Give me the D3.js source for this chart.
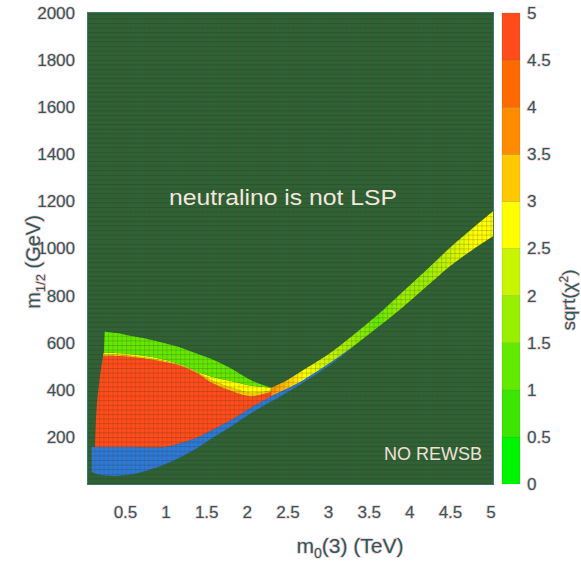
<!DOCTYPE html>
<html>
<head>
<meta charset="utf-8">
<script src="https://cdn.jsdelivr.net/npm/d3@7"></script>
<style>
  html, body { margin: 0; padding: 0; background: #ffffff; }
  text { font-family: "Liberation Sans", Arial, Helvetica, sans-serif; }
</style>
</head>
<body>
<svg id="chart" width="581" height="565"></svg>
<script>
// ---- axis ticks -------------------------------------------------------
const m0Ticks  = [0.5, 1, 1.5, 2, 2.5, 3, 3.5, 4, 4.5, 5];
const m12Ticks = [200, 400, 600, 800, 1000, 1200, 1400, 1600, 1800, 2000];
const chiTicks = [0, 0.5, 1, 1.5, 2, 2.5, 3, 3.5, 4, 4.5, 5];
const chiColors = ["#00f500", "#3ce600", "#62ea00", "#98f000", "#c8f500",
                   "#ffff00", "#ffc800", "#ff8c00", "#ff6a00", "#ff4c1a"];

// ---- region boundaries: [m0 (TeV), m1/2 (GeV)] ------------------------
const greenTop    = [[0.25,647],[0.40,641],[0.56,629],[0.80,614],[0.97,600],[1.20,578],
                     [1.39,553],[1.55,533],[1.79,494],[2.04,443],[2.20,420],[2.30,409]];
const yellowTop   = [[0.24,557],[0.56,552],[0.97,530],[1.20,506],[1.39,478],[1.55,458],
                     [1.79,438],[2.04,418],[2.20,412],[2.30,409]];
const orangeTop   = [[0.23,549],[0.56,545],[0.97,524],[1.20,503],[1.39,474],[1.55,443],
                     [1.79,412],[2.04,388],[2.20,391],[2.30,398]];
const redTop      = [[0.23,545],[0.56,540],[0.97,519],[1.20,500],[1.39,470],[1.55,433],
                     [1.79,398],[2.04,372],[2.20,382],[2.30,392]];
const redLeft     = [[0.23,545],[0.19,450],[0.156,345],[0.14,250],[0.131,157]];
const blueTop     = [[0.09,157],[0.50,157],[0.99,157],[1.20,175],[1.40,198],[1.55,225],
                     [1.80,270],[2.04,322],[2.30,372],[2.50,405],[2.70,442],[3.00,508],[3.30,582]];
const rewsbEdge   = [[0.09,52],[0.15,42],[0.35,34],[0.60,42],[0.80,60],[1.00,85],[1.20,117],
                     [1.40,155],[1.55,190],[1.80,243],[2.04,298],[2.30,350],[2.50,390],
                     [2.70,432],[3.00,500],[3.30,580]];

// narrow allowed strip running up along the REWSB edge
const stripM0    = [2.30, 2.50, 2.70, 3.00, 3.30, 3.60, 3.90, 4.20, 4.50, 4.80, 5.03];
const stripUpper = [409, 442, 485, 550, 630, 715, 810, 905, 1003, 1092, 1158];
const stripLower = [372, 405, 442, 508, 582, 662, 745, 835, 925, 1000, 1052];
const stripChi   = [3.8, 3.3, 2.8, 2.3, 1.8, 1.4, 1.7, 1.9, 2.2, 2.5, 2.8];

// chi values of the filled regions
const regionChi = { green: 1.3, yellow: 2.8, orange: 3.3, red: 4.8 };

// ---- layout -----------------------------------------------------------
const plot = { left: 88, right: 493, top: 13, bottom: 484 };
const bar  = { left: 502, right: 520 };
const textColor = "#1d5e63";
const fringe = "rgba(255,140,140,0.45)";

const svg = d3.select("#chart");
const x = d3.scaleLinear().domain([0.045, 5.03]).range([plot.left, plot.right]);
const y = d3.scaleLinear().domain([0, 2000]).range([plot.bottom, plot.top]);
const yc = d3.scaleLinear().domain([0, 5]).range([plot.bottom, plot.top]);
const color = d3.scaleThreshold().domain(chiTicks.slice(1, -1)).range(chiColors);

const defs = svg.append("defs");
defs.append("clipPath").attr("id", "plotClip")
  .append("rect")
  .attr("x", plot.left).attr("y", plot.top)
  .attr("width", plot.right - plot.left).attr("height", plot.bottom - plot.top);

// fine scan texture over the plot area
const pat = defs.append("pattern").attr("id", "scan")
  .attr("patternUnits", "userSpaceOnUse")
  .attr("width", 4.5).attr("height", 4.6);
pat.append("rect").attr("x", 0).attr("y", 0).attr("width", 1).attr("height", 4.6)
  .attr("fill", "rgba(120,55,40,0.22)");
pat.append("rect").attr("x", 0).attr("y", 0).attr("width", 4.5).attr("height", 1)
  .attr("fill", "rgba(15,35,20,0.20)");

// colour along the strip
const grad = defs.append("linearGradient").attr("id", "stripGrad")
  .attr("gradientUnits", "userSpaceOnUse")
  .attr("x1", x(stripM0[0])).attr("x2", x(stripM0[stripM0.length - 1]))
  .attr("y1", 0).attr("y2", 0);
const x0 = x(stripM0[0]), x1 = x(stripM0[stripM0.length - 1]);
stripM0.forEach((m, i) => {
  grad.append("stop")
    .attr("offset", (x(m) - x0) / (x1 - x0))
    .attr("stop-color", color(stripChi[i]));
});

// ---- helpers ----------------------------------------------------------
const edge = d3.line().x(d => x(d[0])).y(d => y(d[1])).curve(d3.curveCatmullRom.alpha(0.5));
function band(upper, lower) {
  return edge(upper) + "L" + edge(lower.slice().reverse()).slice(1) + "Z";
}

// ---- plot area --------------------------------------------------------
const g = svg.append("g").attr("clip-path", "url(#plotClip)");
g.append("rect")
  .attr("x", plot.left).attr("y", plot.top)
  .attr("width", plot.right - plot.left).attr("height", plot.bottom - plot.top)
  .attr("fill", "#2d6335");

// red bulk
g.append("path")
  .attr("d", edge(redTop) + "L" + edge(blueTop.filter(d => d[0] <= 2.3).reverse()).slice(1)
             + "L" + edge(redLeft.slice().reverse()).slice(1) + "Z")
  .attr("fill", color(regionChi.red));
// orange / yellow transition above the red
g.append("path").attr("d", band(orangeTop, redTop)).attr("fill", color(regionChi.orange));
g.append("path").attr("d", band(yellowTop, orangeTop)).attr("fill", color(regionChi.yellow));
// green cap
g.append("path").attr("d", band(greenTop, yellowTop)).attr("fill", color(regionChi.green));

// strip along the REWSB edge
const upperPts = stripM0.map((m, i) => [m, stripUpper[i]]);
const lowerPts = stripM0.map((m, i) => [m, stripLower[i]]);
g.append("path").attr("d", band(upperPts, lowerPts)).attr("fill", "url(#stripGrad)");

// blue region next to the REWSB edge
g.append("path")
  .attr("d", band(blueTop, rewsbEdge))
  .attr("fill", "#2b7ad8");

// texture overlay
g.append("rect")
  .attr("x", plot.left).attr("y", plot.top)
  .attr("width", plot.right - plot.left).attr("height", plot.bottom - plot.top)
  .attr("fill", "url(#scan)");

svg.append("rect")
  .attr("x", plot.left - 0.5).attr("y", plot.top - 0.5)
  .attr("width", plot.right - plot.left + 1).attr("height", plot.bottom - plot.top + 1)
  .attr("fill", "none").attr("stroke", "#3f7b6c").attr("stroke-width", 1);

// in-plot labels
svg.append("text")
  .attr("x", 283).attr("y", 205)
  .attr("text-anchor", "middle")
  .attr("font-size", 22)
  .attr("textLength", 228).attr("lengthAdjust", "spacingAndGlyphs")
  .attr("fill", "#f4e7df")
  .text("neutralino is not LSP");
svg.append("text")
  .attr("x", 482).attr("y", 460)
  .attr("text-anchor", "end")
  .attr("font-size", 18)
  .attr("fill", "#f0e0d8")
  .text("NO REWSB");

// ---- axes -------------------------------------------------------------
function styleText(sel) {
  sel.attr("fill", textColor)
     .attr("stroke", fringe).attr("stroke-width", 1.6)
     .attr("paint-order", "stroke");
}

const xAxis = svg.append("g").attr("transform", `translate(0,${plot.bottom})`)
  .call(d3.axisBottom(x).tickValues(m0Ticks).tickSize(0).tickFormat(d => String(d)));
xAxis.select(".domain").remove();
xAxis.selectAll("text")
  .attr("y", 28).attr("dy", "0.35em")
  .attr("font-size", 17)
  .call(styleText);

const yAxis = svg.append("g").attr("transform", `translate(${plot.left},0)`)
  .call(d3.axisLeft(y).tickValues(m12Ticks).tickSize(0).tickPadding(13).tickFormat(d => String(d)));
yAxis.select(".domain").remove();
yAxis.selectAll("text").attr("font-size", 17).call(styleText);

// axis titles
const xt = svg.append("text")
  .attr("x", 350).attr("y", 553)
  .attr("text-anchor", "middle")
  .attr("font-size", 21)
  .call(styleText);
xt.append("tspan").text("m");
xt.append("tspan").attr("font-size", 14).attr("dy", 5).text("0");
xt.append("tspan").attr("dy", -5).text("(3) (TeV)");

const ytl = svg.append("text")
  .attr("transform", "translate(40,262) rotate(-90)")
  .attr("text-anchor", "middle")
  .attr("font-size", 20)
  .call(styleText);
ytl.append("tspan").text("m");
ytl.append("tspan").attr("font-size", 13).attr("dy", 5).text("1/2");
ytl.append("tspan").attr("dy", -5).text(" (GeV)");

// ---- colour bar -------------------------------------------------------
const cb = svg.append("g");
cb.selectAll("rect.band")
  .data(chiColors)
  .join("rect")
  .attr("class", "band")
  .attr("x", bar.left)
  .attr("y", (c, i) => yc(chiTicks[i + 1]))
  .attr("width", bar.right - bar.left)
  .attr("height", (c, i) => yc(chiTicks[i]) - yc(chiTicks[i + 1]))
  .attr("fill", c => c)
  .attr("stroke", "rgba(60,80,40,0.25)")
  .attr("stroke-width", 0.6);

cb.selectAll("text.tick")
  .data(chiTicks)
  .join("text")
  .attr("class", "tick")
  .attr("x", 527)
  .attr("y", d => yc(d))
  .attr("dy", "0.35em")
  .attr("font-size", 17)
  .text(d => String(d))
  .call(styleText);

const ct = svg.append("text")
  .attr("transform", "translate(575,300) rotate(-90)")
  .attr("text-anchor", "middle")
  .attr("font-size", 19)
  .call(styleText);
ct.append("tspan").text("sqrt(χ");
ct.append("tspan").attr("font-size", 12).attr("dy", -7).text("2");
ct.append("tspan").attr("dy", 7).text(")");
</script>
</body>
</html>
